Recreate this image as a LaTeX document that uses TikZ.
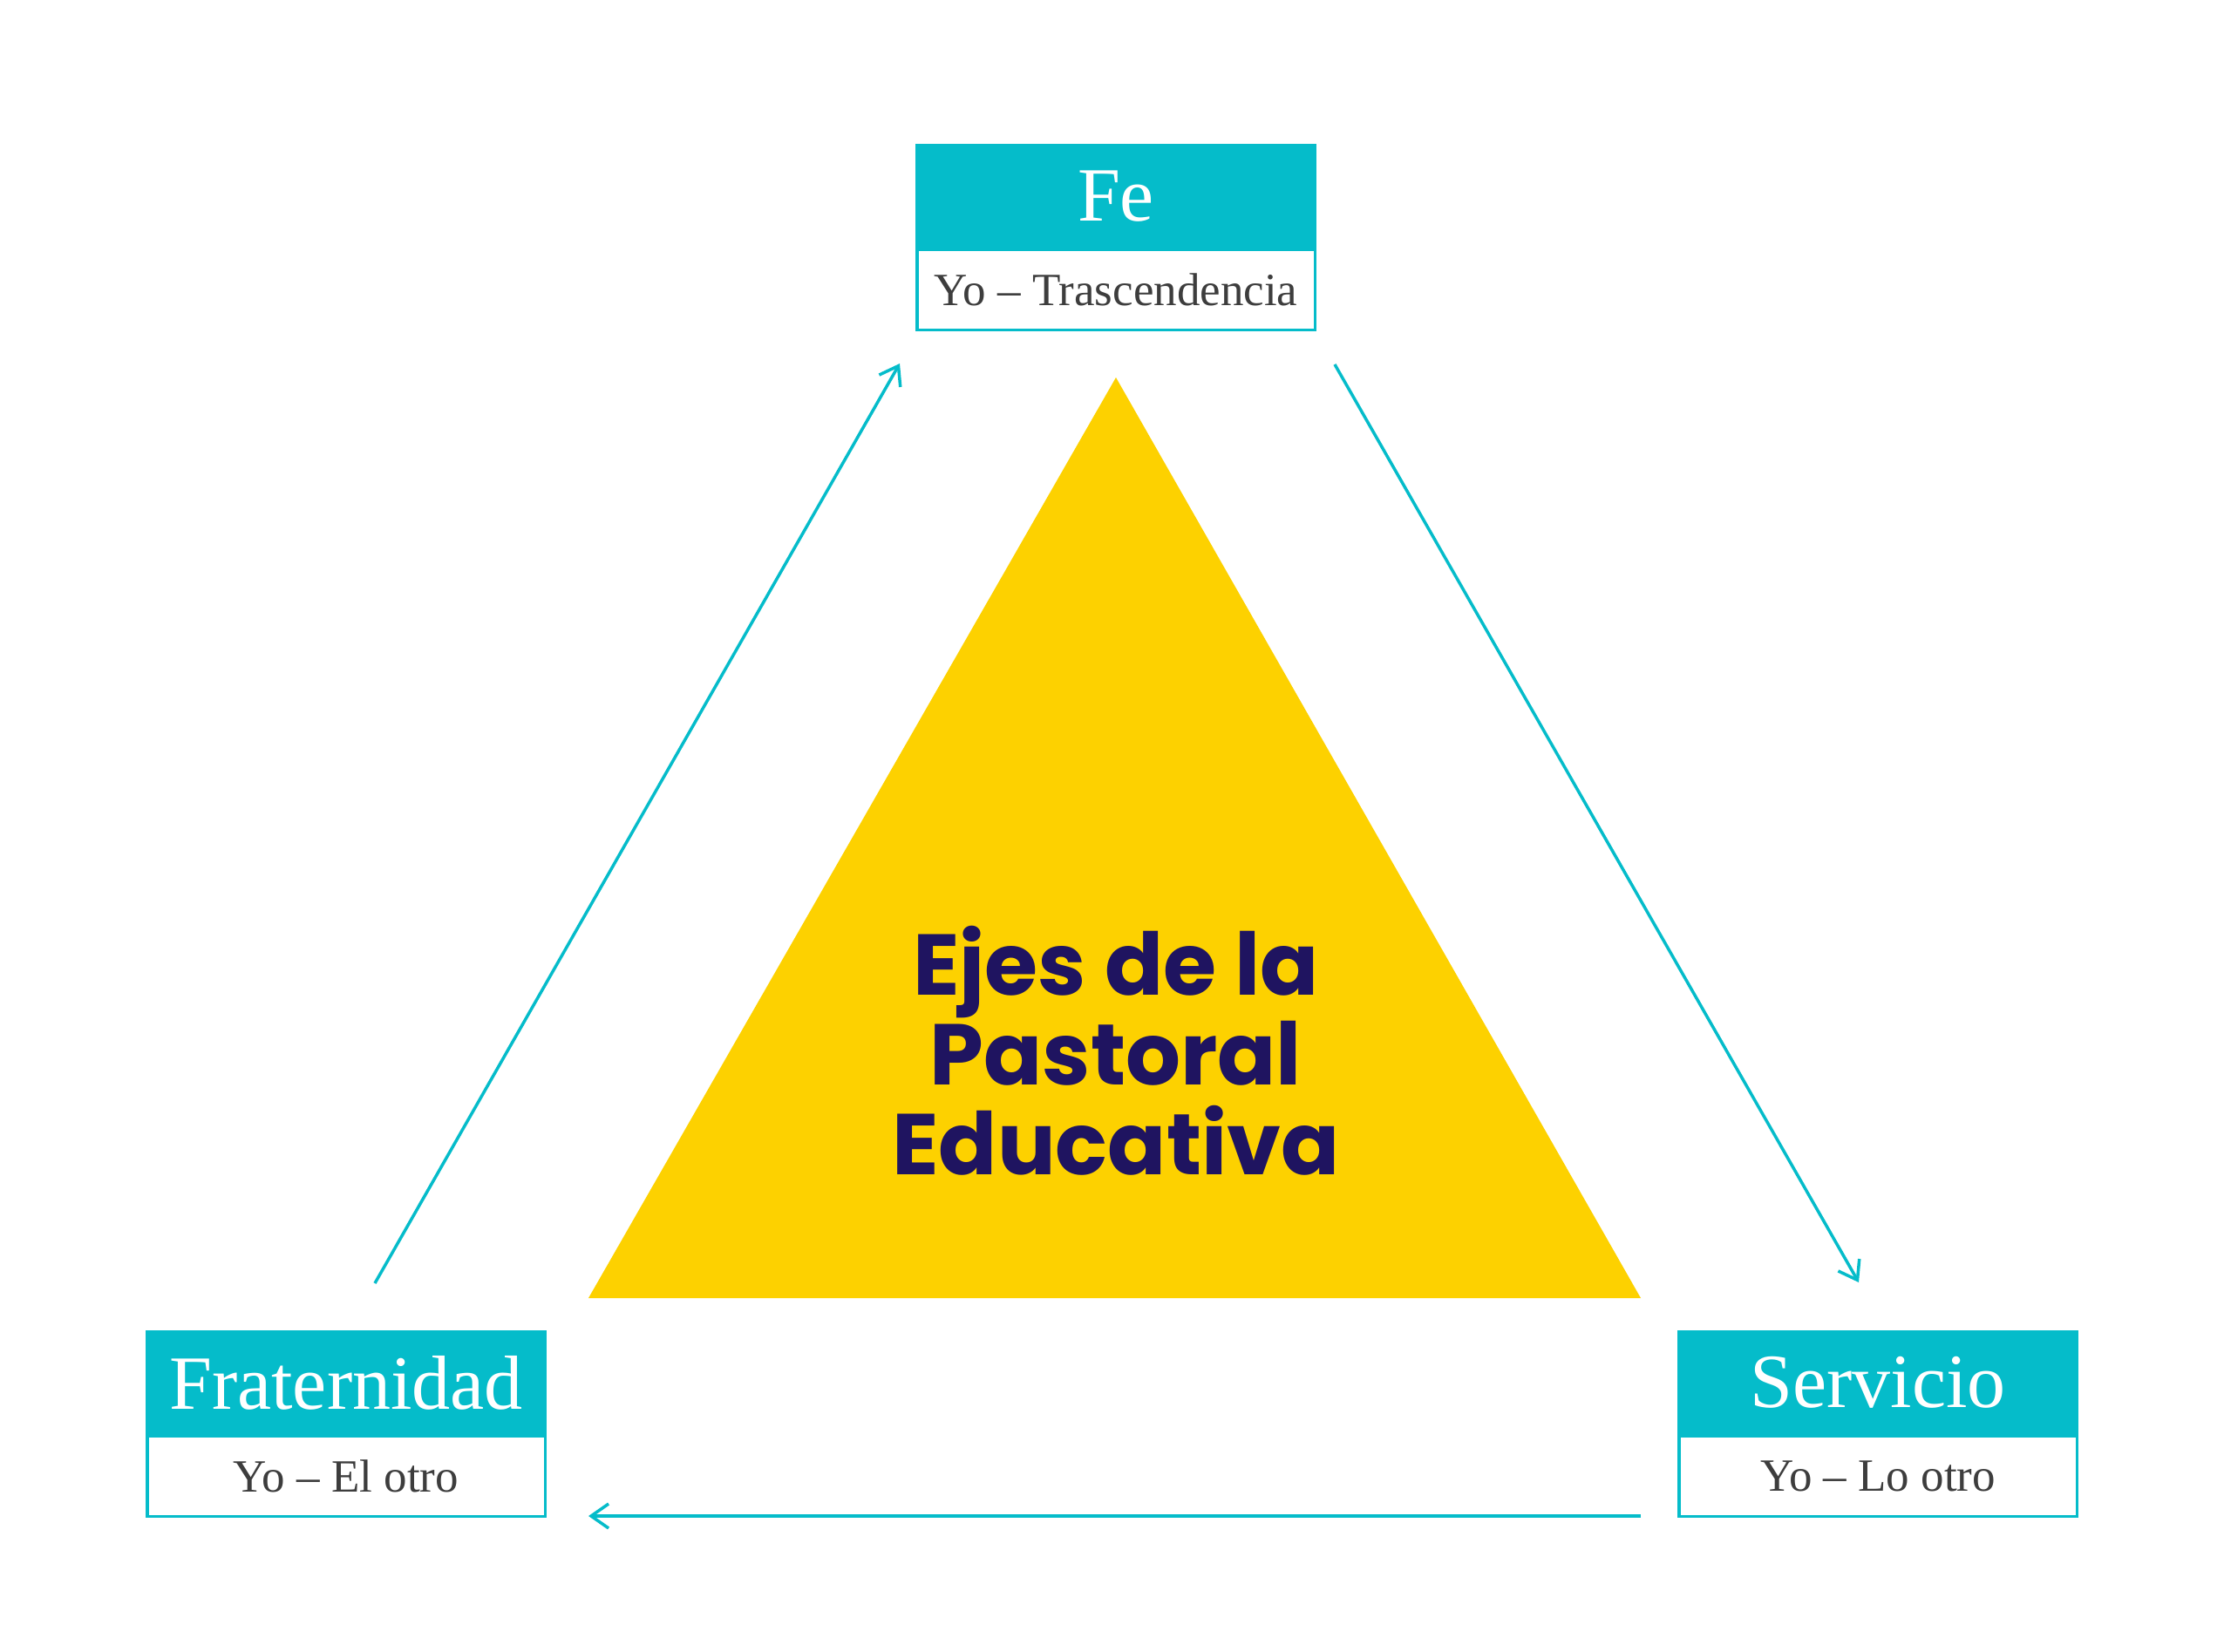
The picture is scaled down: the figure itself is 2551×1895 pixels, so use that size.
\documentclass[tikz,border=0pt]{standalone}
\usepackage{fontspec}
\setmainfont{Liberation Serif}
\newfontfamily\titlefont{Poppins}
\usetikzlibrary{arrows.meta}
\definecolor{teal}{HTML}{05BCCA}
\definecolor{gold}{HTML}{FDD100}
\definecolor{navy}{HTML}{1F1460}
\definecolor{txtgray}{HTML}{3D3D3D}
\begin{document}
\begin{tikzpicture}[x=1pt,y=-1pt,
  head/.style={fill=teal, text=white, minimum width=460pt, minimum height=120pt, inner sep=0pt, anchor=north, font=\fontsize{88}{88}\selectfont},
  sub/.style={draw=teal, line width=3.5pt, fill=white, minimum width=456.5pt, minimum height=92.5pt, inner sep=0pt, anchor=north, text=txtgray, font=\fontsize{53}{53}\selectfont},
  conn/.style={draw=teal, line width=3.5pt, -{Straight Barb[length=20pt,width=28pt,line width=3.5pt]}}
]
\useasboundingbox (0,0) rectangle (2551,1895);
\fill[white] (0,0) rectangle (2551,1895);
% triangle
\coordinate (apex) at (1280,433);
\coordinate (bl) at (675,1489);
\coordinate (br) at (1882,1489);
\fill[gold] (apex) -- (bl) -- (br) -- cycle;
\node[text=navy, align=center, font=\titlefont\bfseries\fontsize{99}{103}\selectfont] (title) at (1280,1205) {Ejes de la\\Pastoral\\Educativa};
% boxes
\node[sub] (feb) at (1280,284) {Yo -- Trascendencia};
\node[head] (feh) at (1280,165) {Fe};
\node[sub] (frb) at (397,1645) {Yo -- El otro};
\node[head] (frh) at (397,1526) {Fraternidad};
\node[sub] (seb) at (2154,1645) {Yo -- Lo otro};
\node[head] (seh) at (2154,1526) {Servicio};
% arrows
\coordinate (a1s) at (430,1472);
\coordinate (a1e) at (1032,417);
\coordinate (a2s) at (1531,418);
\coordinate (a2e) at (2132,1471);
\coordinate (a3s) at (1882,1739);
\coordinate (a3e) at (675,1739);
\draw[conn] (a1s) -- (a1e);
\draw[conn] (a2s) -- (a2e);
\draw[conn] (a3s) -- (a3e);
\end{tikzpicture}
\end{document}
